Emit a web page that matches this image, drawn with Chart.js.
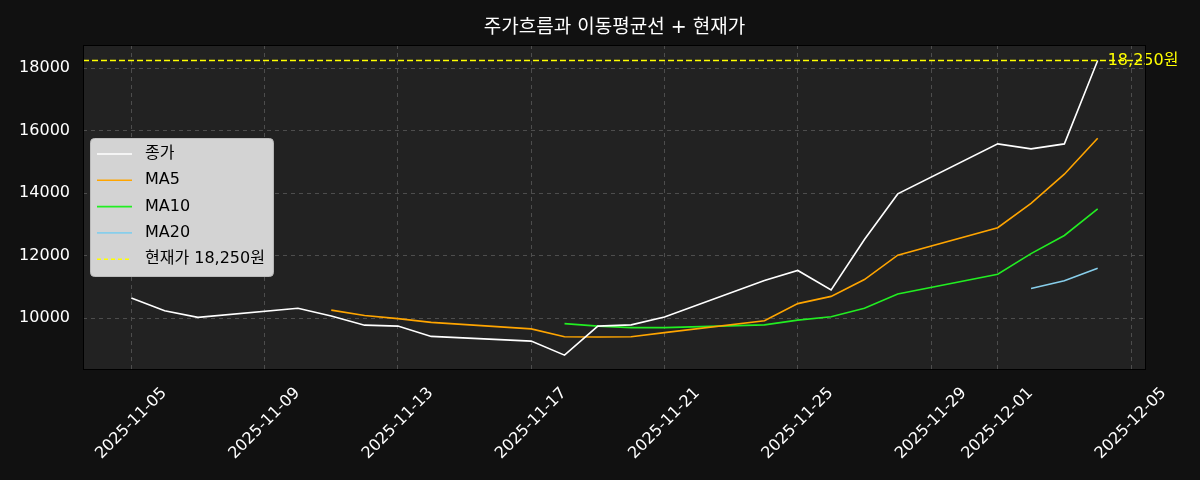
<!DOCTYPE html>
<html>
<head>
<meta charset="utf-8">
<script src="https://cdn.jsdelivr.net/npm/chart.js@4.4.1/dist/chart.umd.min.js"></script>
<style>
  html, body { margin: 0; padding: 0; background: #111111; }
  #wrap { width: 1200px; height: 480px; }
</style>
</head>
<body>
<div id="wrap"><canvas id="chart" width="1200" height="480"></canvas></div>
<script>
// trading days and prices
const dates = [
  '2025-11-05','2025-11-06','2025-11-07','2025-11-10','2025-11-11','2025-11-12','2025-11-13',
  '2025-11-14','2025-11-17','2025-11-18','2025-11-19','2025-11-20','2025-11-21','2025-11-24',
  '2025-11-25','2025-11-26','2025-11-27','2025-11-28','2025-12-01','2025-12-02','2025-12-03','2025-12-04'
];
const closePrices = [10650, 10240, 10030, 10320, 10070, 9780, 9750, 9420, 9270, 8820, 9750,
  9790, 10040, 11210, 11530, 10910, 12520, 13980, 15580, 15420, 15580, 18250];
const ma5 = [null, null, null, null, 10260, 10090, 9990, 9870, 9660, 9410, 9400,
  9410, 9540, 9920, 10470, 10700, 11240, 12020, 12900, 13680, 14610, 15760];
const ma10 = [null, null, null, null, null, null, null, null, null, 9830, 9750,
  9700, 9700, 9790, 9940, 10050, 10320, 10780, 11410, 12070, 12650, 13500];
const ma20 = [null, null, null, null, null, null, null, null, null, null, null,
  null, null, null, null, null, null, null, null, 10950, 11200, 11600];
const currentPrice = 18250;
const xTickDates = ['2025-11-05','2025-11-09','2025-11-13','2025-11-17','2025-11-21',
  '2025-11-25','2025-11-29','2025-12-01','2025-12-05'];
const yTicks = [10000, 12000, 14000, 16000, 18000];

const titleText = '주가흐름과 이동평균선 + 현재가';
const priceLabel = '18,250원';
const legendItems = [
  { label: '종가', color: '#ffffff', dash: [] },
  { label: 'MA5', color: '#ffa500', dash: [] },
  { label: 'MA10', color: '#22ee22', dash: [] },
  { label: 'MA20', color: '#87ceeb', dash: [] },
  { label: '현재가 18,250원', color: '#ffff00', dash: [4, 3] }
];

const FONT = "'DejaVu Sans', 'Noto Sans CJK KR', sans-serif";
const day0 = Date.parse(dates[0] + 'T00:00:00Z');
const toDay = d => (Date.parse(d + 'T00:00:00Z') - day0) / 86400000;
const pts = arr => dates.map((d, i) => ({ x: toDay(d), y: arr[i] }));

function lineSet(label, data, color) {
  return {
    label, data: pts(data), borderColor: color, backgroundColor: color,
    borderWidth: 1.6, pointRadius: 0, tension: 0, spanGaps: false
  };
}

const dressing = {
  id: 'dressing',
  beforeDraw(chart) {
    const { ctx, chartArea: a } = chart;
    ctx.save();
    ctx.fillStyle = '#222222';
    ctx.fillRect(a.left, a.top, a.right - a.left, a.bottom - a.top);
    ctx.restore();
  },
  afterDraw(chart) {
    const { ctx, chartArea: a, scales } = chart;
    const xs = scales.x, ys = scales.y;
    ctx.save();

    // current price line
    const py = ys.getPixelForValue(currentPrice);
    ctx.strokeStyle = '#ffff00';
    ctx.lineWidth = 1.6;
    ctx.setLineDash([6, 3]);
    ctx.beginPath();
    ctx.moveTo(a.left, py);
    ctx.lineTo(a.right, py);
    ctx.stroke();
    ctx.setLineDash([]);
    ctx.fillStyle = '#ffff00';
    ctx.font = '16px ' + FONT;
    ctx.textAlign = 'left';
    ctx.textBaseline = 'middle';
    ctx.fillText(priceLabel, xs.getPixelForValue(toDay(dates[dates.length - 1])) + 10, py);

    // frame
    ctx.strokeStyle = '#000000';
    ctx.lineWidth = 1;
    ctx.strokeRect(a.left + 0.5, a.top + 0.5, a.right - a.left - 1, a.bottom - a.top - 1);

    // title
    ctx.fillStyle = '#ffffff';
    ctx.font = '19px ' + FONT;
    ctx.textAlign = 'center';
    ctx.textBaseline = 'middle';
    ctx.fillText(titleText, (a.left + a.right) / 2, 28);

    // rotated x labels, centred on ticks
    ctx.font = '16px ' + FONT;
    ctx.fillStyle = '#ffffff';
    xTickDates.forEach(d => {
      const x = xs.getPixelForValue(toDay(d));
      const w = ctx.measureText(d).width;
      const h = 16;
      const bb = (w + h) * Math.SQRT1_2;
      ctx.save();
      ctx.translate(x, a.bottom + 15 + bb / 2);
      ctx.rotate(-Math.PI / 4);
      ctx.textAlign = 'center';
      ctx.textBaseline = 'middle';
      ctx.fillText(d, 0, 0);
      ctx.restore();
    });

    // legend box, sized to its texts
    ctx.font = '16px ' + FONT;
    const textW = Math.max(...legendItems.map(it => ctx.measureText(it.label).width));
    const lx = 90, ly = 138, lh = 138;
    const lw = Math.max(164, 145 - lx + textW + 8);
    ctx.fillStyle = 'rgba(211,211,211,1)';
    ctx.strokeStyle = '#bcbcbc';
    ctx.lineWidth = 1;
    ctx.beginPath();
    ctx.roundRect(lx + 0.5, ly + 0.5, lw, lh, 4);
    ctx.fill();
    ctx.stroke();
    ctx.textAlign = 'left';
    ctx.textBaseline = 'middle';
    legendItems.forEach((it, i) => {
      const y = ly + 16 + i * 26.3;
      ctx.strokeStyle = it.color;
      ctx.lineWidth = 1.6;
      ctx.setLineDash(it.dash);
      ctx.beginPath();
      ctx.moveTo(97, y);
      ctx.lineTo(132, y);
      ctx.stroke();
      ctx.setLineDash([]);
      ctx.fillStyle = '#000000';
      ctx.fillText(it.label, 145, y);
    });
    ctx.restore();
  }
};

new Chart(document.getElementById('chart'), {
  type: 'line',
  data: {
    datasets: [
      lineSet('종가', closePrices, '#ffffff'),
      lineSet('MA5', ma5, '#ffa500'),
      lineSet('MA10', ma10, '#22ee22'),
      lineSet('MA20', ma20, '#87ceeb')
    ]
  },
  options: {
    responsive: false,
    animation: false,
    layout: { padding: { top: 45, right: 54, left: 0, bottom: 0 } },
    plugins: { legend: { display: false }, title: { display: false }, tooltip: { enabled: false } },
    scales: {
      x: {
        type: 'linear',
        min: -1.45,
        max: 30.45,
        afterBuildTicks: s => { s.ticks = xTickDates.map(d => ({ value: toDay(d) })); },
        afterFit: s => { s.height = 110; },
        ticks: { display: false },
        grid: { color: '#4d4d4d', lineWidth: 1, drawTicks: false },
        border: { display: false, dash: [4, 4] }
      },
      y: {
        min: 8345,
        max: 18745,
        afterBuildTicks: s => { s.ticks = yTicks.map(v => ({ value: v })); },
        afterFit: s => { s.width = 83; },
        ticks: {
          color: '#ffffff',
          padding: 13,
          font: { family: FONT, size: 16 },
          callback: v => String(v)
        },
        grid: { color: '#4d4d4d', lineWidth: 1, drawTicks: false },
        border: { display: false, dash: [4, 4] }
      }
    }
  },
  plugins: [dressing]
});
</script>
</body>
</html>
